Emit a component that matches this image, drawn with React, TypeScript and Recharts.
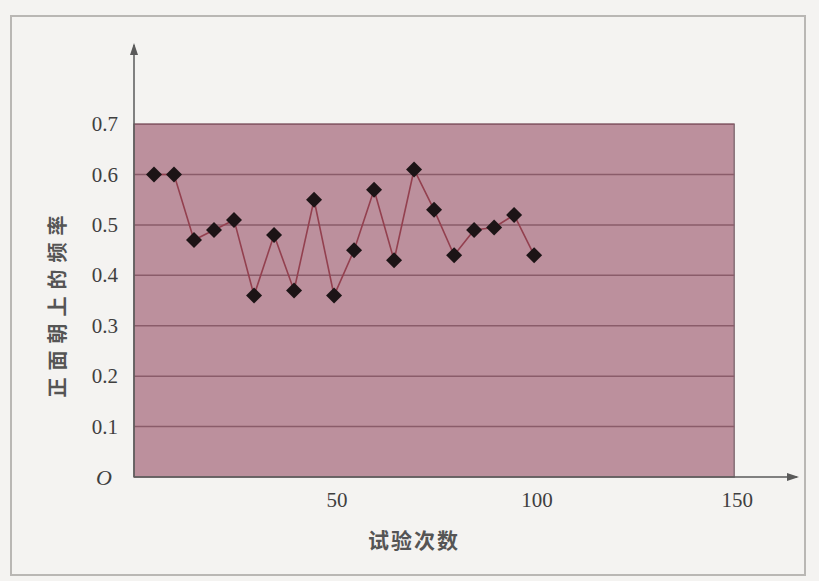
import React from 'react';
import { LineChart, Line, XAxis, YAxis, ReferenceArea, ReferenceLine, ReferenceDot } from 'recharts';

// trial counts and the observed frequency of heads
const trials = [5, 10, 15, 20, 25, 30, 35, 40, 45, 50, 55, 60, 65, 70, 75, 80, 85, 90, 95, 100];
const freqs = [0.6, 0.6, 0.47, 0.49, 0.51, 0.36, 0.48, 0.37, 0.55, 0.36, 0.45, 0.57, 0.43, 0.61, 0.53, 0.44, 0.49, 0.495, 0.52, 0.44];
const xTicks = [50, 100, 150];
const yTicks = [0, 0.1, 0.2, 0.3, 0.4, 0.5, 0.6, 0.7];
const gridLevels = [0.1, 0.2, 0.3, 0.4, 0.5, 0.6, 0.7];

const xMax = 165.7;
const yMax = 0.857;
const boxX = 150;
const boxY = 0.7;

const fill = "#bc909d"
const gridColor = "#8a5c6a"
const lineColor = "#93404f"
const axisColor = "#5a5a5a"
const textColor = "#3f3f3f"
const serif = "'Liberation Serif', 'DejaVu Serif', serif"

const data = trials.map((n, i) => ({ n, f: freqs[i] }));

const Diamond = ({ cx = 0, cy = 0 }: { cx?: number; cy?: number }) => {
    const r = 8;
    return <polygon points={`${cx},${cy - r} ${cx + r},${cy} ${cx},${cy + r} ${cx - r},${cy}`} fill="#1c1416" />;
};

const UpArrow = ({ cx = 0, cy = 0 }: { cx?: number; cy?: number }) => (
    <polygon points={`${cx},${cy - 2} ${cx + 4},${cy + 10} ${cx - 4},${cy + 10}`} fill={axisColor} />
);

const RightArrow = ({ cx = 0, cy = 0 }: { cx?: number; cy?: number }) => (
    <polygon points={`${cx + 2},${cy} ${cx - 10},${cy - 4} ${cx - 10},${cy + 4}`} fill={axisColor} />
);

const YTick = ({ x = 0, y = 0, payload }: any) => {
    const v = payload.value as number;
    if (v === 0) {
        return <text x={x - 6} y={y + 8} textAnchor="end" fontFamily={serif} fontStyle="italic" fontSize={22} fill={textColor}>O</text>;
    }
    return <text x={x} y={y + 7} textAnchor="end" fontFamily={serif} fontSize={21} fill={textColor}>{v.toFixed(1)}</text>;
};

const XTick = ({ x = 0, y = 0, payload }: any) => (
    <text x={x + 3} y={y + 22} textAnchor="middle" fontFamily={serif} fontSize={21} fill={textColor}>{payload.value}</text>
);

export default function App() {
    return (
        <div style={{ position: 'absolute', left: 0, top: 0, width: 819, height: 581, background: '#f4f3f1', overflow: 'hidden' }}>
            <div style={{ position: 'absolute', left: 10, top: 15, width: 796, height: 561, border: '2px solid #b9b7b4', boxSizing: 'border-box' }} />
            <div style={{ position: 'absolute', left: 0, top: 0 }}>
                <LineChart width={819} height={581} data={data} margin={{ top: 45, right: 22, bottom: 74, left: 74 }}>
                    <XAxis
                        type="number"
                        dataKey="n"
                        domain={[0, xMax]}
                        ticks={xTicks}
                        allowDataOverflow
                        height={30}
                        tickLine={false}
                        axisLine={{ stroke: axisColor, strokeWidth: 1.5 }}
                        tick={<XTick />}
                    />
                    <YAxis
                        type="number"
                        domain={[0, yMax]}
                        ticks={yTicks}
                        allowDataOverflow
                        width={60}
                        tickLine={false}
                        tickMargin={10}
                        axisLine={{ stroke: axisColor, strokeWidth: 1.5 }}
                        tick={<YTick />}
                    />
                    <ReferenceArea x1={0} x2={boxX} y1={0} y2={boxY} fill={fill} fillOpacity={1} stroke="#857077" strokeWidth={1.5} />
                    {gridLevels.map(v => (
                        <ReferenceLine key={v} segment={[{ x: 0, y: v }, { x: boxX, y: v }]} stroke={gridColor} strokeWidth={1.5} />
                    ))}
                    <ReferenceDot x={0} y={yMax} shape={<UpArrow />} />
                    <ReferenceDot x={xMax} y={0} shape={<RightArrow />} />
                    <Line
                        type="linear"
                        dataKey="f"
                        stroke={lineColor}
                        strokeWidth={1.6}
                        dot={<Diamond />}
                        activeDot={false}
                        isAnimationActive={false}
                    />
                </LineChart>
            </div>
            <div style={{ position: 'absolute', left: 368, top: 524, fontFamily: "'Noto Sans CJK SC'", fontWeight: 700, fontSize: 21, color: '#555', letterSpacing: 2 }}>试验次数</div>
            <div style={{ position: 'absolute', left: 56, top: 303, transform: 'translate(-50%, -50%) rotate(-90deg)', whiteSpace: 'nowrap', fontFamily: "'Noto Sans CJK SC'", fontWeight: 700, fontSize: 20, color: '#555', letterSpacing: 7 }}>正面朝上的频率</div>
        </div>
    );
}
